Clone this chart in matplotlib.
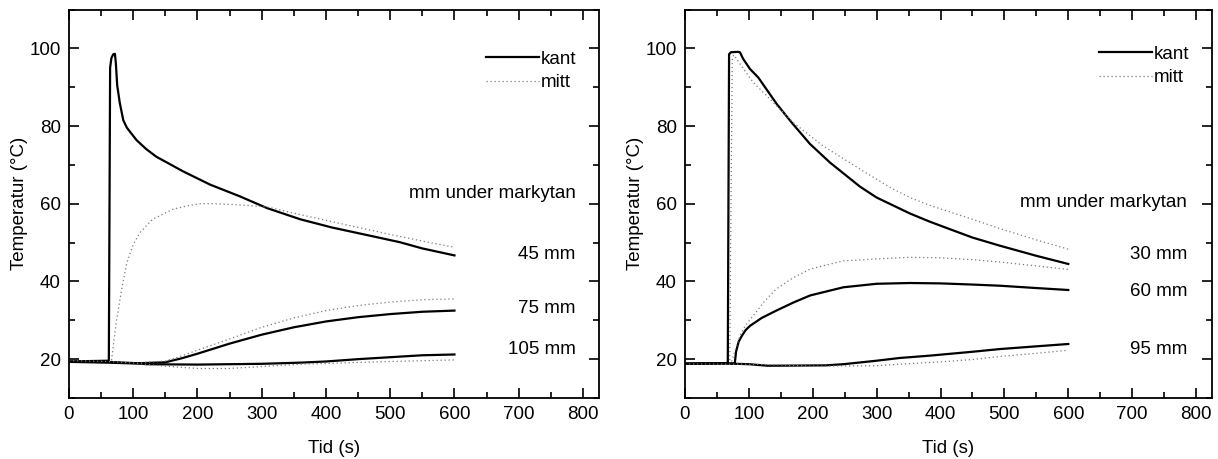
import numpy as np
import matplotlib
matplotlib.use("Agg")
import matplotlib.pyplot as plt

plt.rcParams["font.family"] = ["Liberation Sans", "DejaVu Sans"]
plt.rcParams["font.size"] = 13.5

# ---- left panel: 45, 75, 105 mm ----
l45_kant_t = [0, 30, 62, 64, 66, 69, 71.5, 73, 75, 79, 84.5, 90, 105, 120, 136, 178, 220, 266, 308, 360, 409, 479, 515, 550, 600]
l45_kant_T = [19.4, 19.5, 19.6, 95, 97.5, 98.5, 98.6, 96, 90.5, 86, 81.5, 79.6, 76.4, 74.1, 72.1, 68.3, 64.9, 61.9, 58.9, 56.0, 53.9, 51.4, 50.1, 48.5, 46.7]
l45_mitt_t = [0, 60, 66, 70, 74, 77, 82, 90, 100, 110, 130, 162, 185, 204, 230, 256, 308, 360, 409, 450, 500, 550, 600]
l45_mitt_T = [19.5, 19.3, 19.3, 25, 30, 33, 38, 44.8, 49.5, 52.5, 56, 58.6, 59.5, 60, 60, 59.8, 59.2, 57.2, 55.4, 53.9, 52.1, 50.4, 48.8]
l75_kant_t = [0, 60, 100, 150, 175, 200, 250, 300, 350, 400, 450, 500, 550, 600]
l75_kant_T = [19.3, 19.1, 18.9, 19.2, 20.2, 21.4, 24, 26.3, 28.2, 29.7, 30.8, 31.6, 32.2, 32.5]
l75_mitt_t = [0, 60, 100, 150, 175, 200, 250, 300, 350, 400, 450, 500, 550, 600]
l75_mitt_T = [19.5, 19.2, 19.0, 19.5, 20.8, 22.3, 25.2, 28.2, 30.6, 32.5, 33.8, 34.7, 35.3, 35.5]
l105_kant_t = [0, 60, 100, 120, 200, 300, 360, 400, 450, 500, 550, 600]
l105_kant_T = [19.4, 19.3, 19.0, 18.7, 18.6, 18.8, 19.1, 19.4, 20.0, 20.5, 21.0, 21.2]
l105_mitt_t = [0, 60, 100, 150, 200, 250, 300, 360, 400, 500, 600]
l105_mitt_T = [19.6, 19.4, 19.0, 18.2, 17.6, 17.6, 18.1, 18.7, 18.9, 19.4, 19.8]

# ---- right panel: 30, 60, 95 mm ----
r30_kant_t = [0, 30, 67, 68, 69, 72, 83, 86, 91, 101.7, 114.7, 143.5, 167, 195.6, 227, 274, 300, 352, 383, 409, 450, 493, 550, 600]
r30_kant_T = [18.8, 18.9, 19.0, 60, 98.5, 99, 99.1, 99, 97.3, 94.7, 92.5, 85.7, 80.9, 75.4, 70.6, 64.4, 61.6, 57.5, 55.4, 53.8, 51.3, 49.2, 46.6, 44.5]
r30_mitt_t = [0, 70, 72, 74, 76, 80, 86, 107, 138, 169.5, 216, 274, 321, 352, 383, 450, 493, 550, 600]
r30_mitt_T = [18.9, 18.9, 60, 97, 98.3, 97.5, 96, 91.2, 86.1, 80.9, 74.9, 68.9, 64.2, 61.6, 59.6, 56.0, 53.6, 50.7, 48.3]
r60_kant_t = [0, 77, 78, 80, 84, 89, 95, 102, 120, 143, 170, 196, 248, 300, 352, 400, 450, 493, 550, 600]
r60_kant_T = [18.8, 18.9, 19.0, 22, 24.5, 26, 27.5, 28.6, 30.6, 32.5, 34.6, 36.4, 38.5, 39.4, 39.6, 39.5, 39.2, 38.9, 38.3, 37.8]
r60_mitt_t = [0, 72, 76, 80, 86, 95, 107, 125, 143, 170, 196, 248, 300, 350, 400, 450, 493, 550, 600]
r60_mitt_T = [18.9, 18.9, 21, 23, 26, 28.8, 31.2, 35, 38.1, 41, 43.2, 45.3, 45.8, 46.2, 46.1, 45.6, 45, 44, 43.1]
r95_kant_t = [0, 60, 100, 130, 220, 248, 300, 336, 383, 450, 493, 550, 600]
r95_kant_T = [18.9, 18.9, 18.7, 18.3, 18.4, 18.7, 19.6, 20.3, 20.9, 21.9, 22.6, 23.3, 23.9]
r95_mitt_t = [0, 100, 150, 200, 300, 336, 400, 450, 493, 550, 600]
r95_mitt_T = [18.8, 18.7, 18.5, 18.2, 18.3, 18.7, 19.3, 19.9, 20.7, 21.5, 22.3]

left_labels = ["mm under markytan", "45 mm", "75 mm", "105 mm"]
left_label_y = [62.6, 46.9, 33.1, 22.6]
right_labels = ["mm under markytan", "30 mm", "60 mm", "95 mm"]
right_label_y = [60.4, 47.0, 37.3, 22.6]

fig = plt.figure(figsize=(12.18, 4.59), dpi=100)
ax1 = fig.add_axes([69 / 1218, 61 / 459, 530 / 1218, 388.5 / 459])
ax2 = fig.add_axes([685 / 1218, 61 / 459, 527 / 1218, 388.5 / 459])

solid = dict(color="black", lw=1.6)
dotted = dict(color="#7a7a7a", lw=0.9, ls=(0, (1, 2.2)))

ax1.plot(l45_kant_t, l45_kant_T, label="kant", **solid)
ax1.plot(l45_mitt_t, l45_mitt_T, label="mitt", **dotted)
ax1.plot(l75_kant_t, l75_kant_T, **solid)
ax1.plot(l75_mitt_t, l75_mitt_T, **dotted)
ax1.plot(l105_kant_t, l105_kant_T, **solid)
ax1.plot(l105_mitt_t, l105_mitt_T, **dotted)

ax2.plot(r30_kant_t, r30_kant_T, label="kant", **solid)
ax2.plot(r30_mitt_t, r30_mitt_T, label="mitt", **dotted)
ax2.plot(r60_kant_t, r60_kant_T, **solid)
ax2.plot(r60_mitt_t, r60_mitt_T, **dotted)
ax2.plot(r95_kant_t, r95_kant_T, **solid)
ax2.plot(r95_mitt_t, r95_mitt_T, **dotted)

panels = [(ax1, left_labels, left_label_y, 789, 0.894),
          (ax2, right_labels, right_label_y, 786, 0.907)]
for ax, labels, ys, xr, leg_top in panels:
    ax.set_xlim(0, 825)
    ax.set_ylim(10, 110)
    ax.set_xticks(np.arange(0, 801, 100))
    ax.set_xticks(np.arange(50, 801, 100), minor=True)
    ax.set_yticks(np.arange(20, 101, 20))
    ax.set_yticks(np.arange(10, 111, 20), minor=True)
    ax.tick_params(which="both", direction="in", top=True, right=True, width=1.2)
    ax.tick_params(which="major", length=7.5, pad=6)
    ax.tick_params(which="minor", length=4.5)
    for sp in ax.spines.values():
        sp.set_linewidth(1.3)
    ax.set_xlabel("Tid (s)", labelpad=12)
    ax.set_ylabel("Temperatur (°C)", labelpad=1)
    for s, y in zip(labels, ys):
        ax.text(xr, y, s, ha="right", va="center")
    ax.legend(loc="upper right", bbox_to_anchor=(0.957, leg_top), frameon=False,
              borderpad=0, borderaxespad=0, handlelength=2.8, handletextpad=0.1,
              labelspacing=0.35)

fig.savefig("out.png", dpi=100)
